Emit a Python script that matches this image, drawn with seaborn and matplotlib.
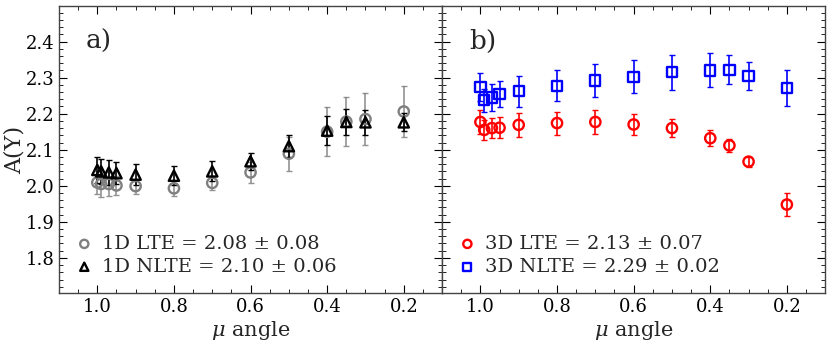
import matplotlib
matplotlib.use("Agg")
import matplotlib.pyplot as plt
import seaborn as sns
import pandas as pd
from matplotlib.ticker import MultipleLocator

mu = [1.0, 0.99, 0.97, 0.95, 0.9, 0.8, 0.7, 0.6, 0.5, 0.4, 0.35, 0.3, 0.2]

lte1d = [2.009, 2.005, 2.005, 2.001, 1.999, 1.993, 2.008, 2.037, 2.089, 2.150, 2.178, 2.185, 2.206]
lte1d_err = [0.033, 0.036, 0.033, 0.027, 0.021, 0.020, 0.020, 0.029, 0.047, 0.068, 0.069, 0.073, 0.072]
nlte1d = [2.044, 2.040, 2.037, 2.035, 2.031, 2.028, 2.040, 2.068, 2.110, 2.153, 2.177, 2.176, 2.176]
nlte1d_err = [0.036, 0.035, 0.035, 0.030, 0.030, 0.026, 0.028, 0.024, 0.031, 0.041, 0.036, 0.034, 0.025]

lte3d = [2.177, 2.155, 2.160, 2.161, 2.169, 2.174, 2.177, 2.170, 2.160, 2.132, 2.112, 2.067, 1.948]
lte3d_err = [0.032, 0.028, 0.028, 0.029, 0.033, 0.032, 0.032, 0.029, 0.026, 0.023, 0.019, 0.014, 0.032]
nlte3d = [2.274, 2.237, 2.245, 2.254, 2.262, 2.277, 2.292, 2.302, 2.315, 2.320, 2.322, 2.304, 2.272]
nlte3d_err = [0.039, 0.032, 0.037, 0.036, 0.043, 0.043, 0.046, 0.046, 0.048, 0.047, 0.041, 0.039, 0.050]

labels = ["1D LTE = 2.08 ± 0.08", "1D NLTE = 2.10 ± 0.06",
          "3D LTE = 2.13 ± 0.07", "3D NLTE = 2.29 ± 0.02"]
panel_tags = ["a)", "b)"]

sns.set_theme(style="ticks")
plt.rcParams['font.family'] = ['DejaVu Serif']
plt.rcParams['mathtext.fontset'] = 'dejavuserif'

fig, axes = plt.subplots(1, 2, figsize=(8.31, 3.45), dpi=100, sharey=True)
fig.subplots_adjust(left=0.071, right=0.993, bottom=0.151, top=0.982, wspace=0)

series = [
    (axes[0], lte1d, lte1d_err, "#808080", "o", labels[0]),
    (axes[0], nlte1d, nlte1d_err, "black", "^", labels[1]),
    (axes[1], lte3d, lte3d_err, "red", "o", labels[2]),
    (axes[1], nlte3d, nlte3d_err, "blue", "s", labels[3]),
]

for ax, y, err, col, mk, lab in series:
    df = pd.DataFrame({"mu": mu, "A": y})
    ax.errorbar(mu, y, yerr=err, fmt="none", ecolor=col, elinewidth=1.2,
                capsize=2, capthick=1.0, alpha=0.85 if col == "#808080" else 1.0, zorder=2)
    sns.scatterplot(data=df, x="mu", y="A", ax=ax, marker=mk, s=55,
                    facecolor="none", edgecolor=col, linewidth=1.7,
                    label=lab, zorder=3)

for ax, tag in zip(axes, panel_tags):
    ax.set_xlim(1.1, 0.1)
    ax.set_ylim(1.703, 2.498)
    ax.xaxis.set_major_locator(MultipleLocator(0.2))
    ax.xaxis.set_minor_locator(MultipleLocator(0.05))
    ax.yaxis.set_major_locator(MultipleLocator(0.1))
    ax.yaxis.set_minor_locator(MultipleLocator(0.02))
    ax.tick_params(which="both", direction="in", top=True, right=True, left=True,
                   bottom=True, labelsize=13, colors="black")
    ax.tick_params(which="major", length=6, width=0.8)
    ax.tick_params(which="minor", length=3, width=0.6)
    for s in ax.spines.values():
        s.set_color("#444444")
        s.set_linewidth(1.0)
    ax.set_xlabel(r"$\mu$ angle", fontsize=15, labelpad=2)
    ax.set_ylabel("")
    ax.text(0.07, 0.876, tag, transform=ax.transAxes, fontsize=19, va="center", ha="left")
    leg = ax.legend(loc="lower left", frameon=False, fontsize=14, handletextpad=0.3,
                    borderaxespad=0.3, handlelength=1.2, labelspacing=0.25,
                    bbox_to_anchor=(0.0, 0.012))
    for h in leg.legend_handles:
        h.set_sizes([35])

axes[0].set_ylabel("A(Y)", fontsize=16, labelpad=0)
axes[1].tick_params(labelleft=False)

fig.savefig("out.png", dpi=100)
